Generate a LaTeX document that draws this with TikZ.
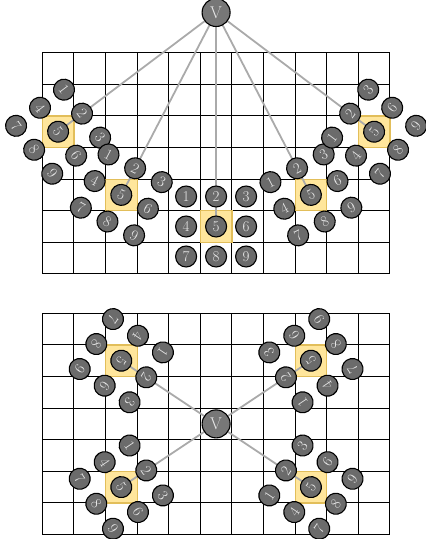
\documentclass[tikz,border=0pt]{standalone}
\usetikzlibrary{calc}
\definecolor{numgray}{HTML}{6B6B6B}
\definecolor{vgray}{HTML}{777777}
\definecolor{numtext}{HTML}{E8E8E8}
\definecolor{yelfill}{HTML}{FFE69C}
\definecolor{yeldraw}{HTML}{E2BE5A}
\definecolor{conngray}{HTML}{AAAAAA}
\pgfdeclarelayer{gridlayer}
\pgfdeclarelayer{sqlayer}
\pgfdeclarelayer{lnlayer}
\pgfsetlayers{gridlayer,sqlayer,lnlayer,main}
\tikzset{
  gridl/.style={draw=black, line width=1.1pt},
  num/.style={circle, draw=black, line width=1.1pt, fill=numgray, text=numtext,
    minimum size=21pt, inner sep=0pt, font=\fontsize{15}{15}\selectfont, transform shape},
  vnode/.style={circle, draw=black, line width=1.1pt, fill=vgray, text=numtext,
    minimum size=28pt, inner sep=0pt, font=\fontsize{17}{17}\selectfont},
  yel/.style={fill=yelfill, draw=yeldraw, line width=1.2pt},
  conn/.style={draw=conngray, line width=1.8pt}
}
% #1 name, #2 x, #3 y, #4 rotation
\newcommand\drawcluster[4]{%
  \begin{pgfonlayer}{sqlayer}
    \path[yel] ({#2-15.8},{#3-15.8}) rectangle ({#2+15.8},{#3+15.8});
  \end{pgfonlayer}
  \begin{scope}[shift={(#2,#3)}, rotate=#4]
    \node[num] (#1-1) at (-30,-30) {1};
    \node[num] (#1-2) at (0,-30) {2};
    \node[num] (#1-3) at (30,-30) {3};
    \node[num] (#1-4) at (-30,0) {4};
    \node[num] (#1-5) at (0,0) {5};
    \node[num] (#1-6) at (30,0) {6};
    \node[num] (#1-7) at (-30,30) {7};
    \node[num] (#1-8) at (0,30) {8};
    \node[num] (#1-9) at (30,30) {9};
  \end{scope}%
}
\begin{document}
\begin{tikzpicture}[x=1pt,y=-1pt]
\useasboundingbox (0,0) rectangle (426,539);
\begin{pgfonlayer}{gridlayer}
  \foreach \oy in {52.7,313.3}{
    \foreach \i in {0,...,11}
      \draw[gridl] ({42.3+\i*31.6},\oy) -- ({42.3+\i*31.6},{\oy+7*31.6});
    \foreach \j in {0,...,7}
      \draw[gridl] (42.3,{\oy+\j*31.6}) -- (389.9,{\oy+\j*31.6});
  }
\end{pgfonlayer}
% top picture
\node[vnode] (V1) at (216.1,12.5) {V};
\drawcluster{A}{58.1}{131.7}{-52.97}
\drawcluster{B}{121.3}{194.9}{-27.46}
\drawcluster{C}{216.1}{226.5}{0}
\drawcluster{D}{310.9}{194.9}{27.46}
\drawcluster{E}{374.1}{131.7}{52.97}
% bottom picture
\node[vnode] (V2) at (216.1,423.9) {V};
\drawcluster{F}{121.3}{360.7}{-123.7}
\drawcluster{G}{310.9}{360.7}{123.7}
\drawcluster{H}{121.3}{487.1}{-56.3}
\drawcluster{I}{310.9}{487.1}{56.3}
\begin{pgfonlayer}{lnlayer}
  \foreach \c in {A,B,C,D,E}
    \draw[conn] (V1.center) -- (\c-5.center);
  \foreach \c in {F,G,H,I}
    \draw[conn] (V2.center) -- (\c-5.center);
\end{pgfonlayer}
\end{tikzpicture}
\end{document}
